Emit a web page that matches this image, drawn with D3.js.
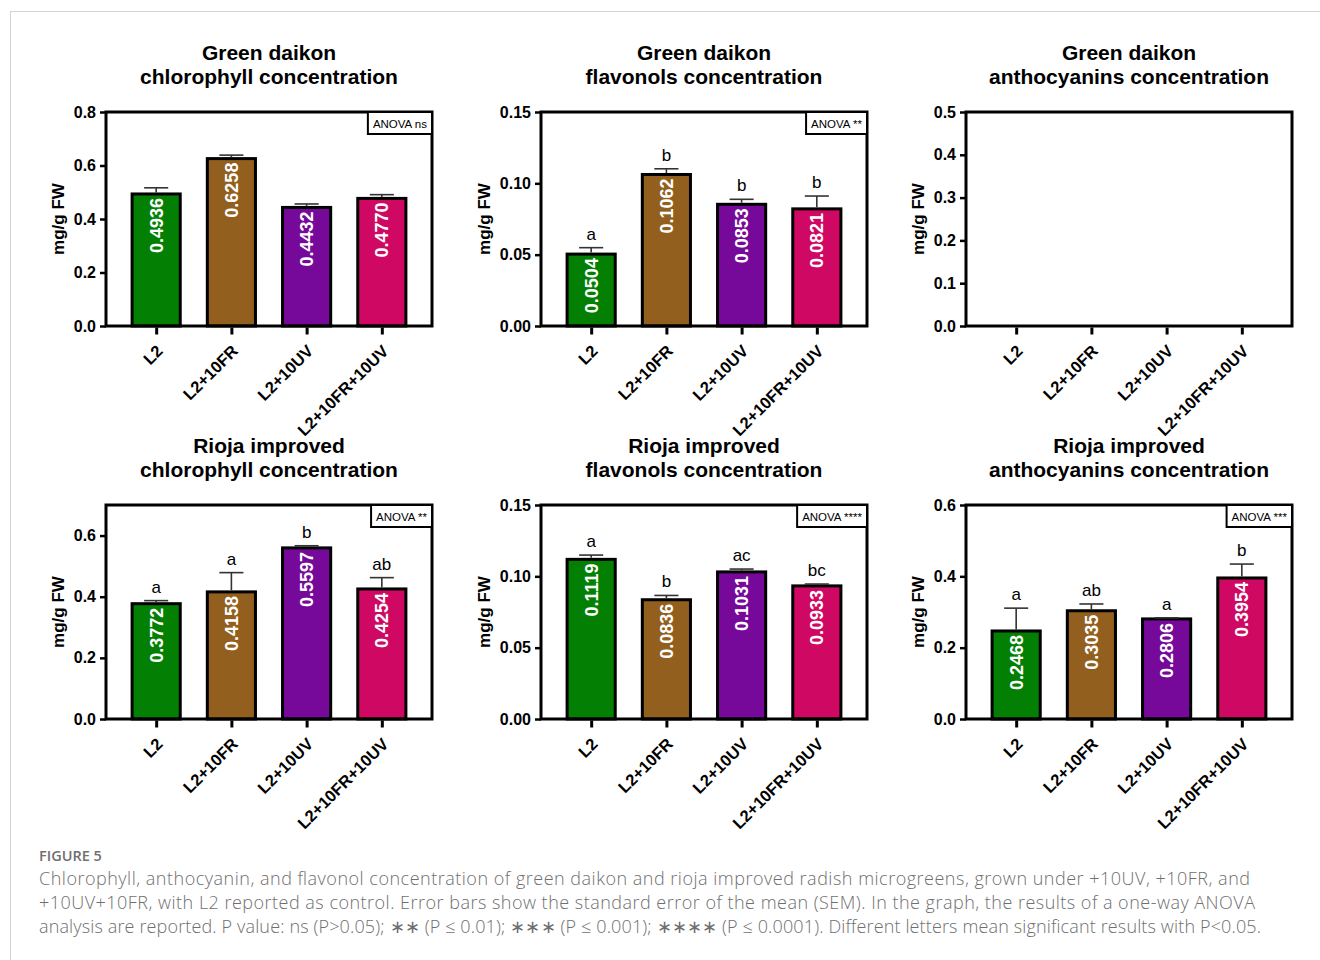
<!DOCTYPE html>
<html>
<head>
<meta charset="utf-8">
<script src="https://cdn.jsdelivr.net/npm/d3@7"></script>
<style>
  body { margin: 0; background: #fff; }
  svg { display: block; }
</style>
</head>
<body>
<script>
// treatments and bar colours
var groups = ["L2", "L2+10FR", "L2+10UV", "L2+10FR+10UV"];
var barColors = ["#037f03", "#925f1e", "#760999", "#cf0863"];

var cultivars = ["Green daikon", "Rioja improved"];
var pigments = ["chlorophyll", "flavonols", "anthocyanins"];

// means and SEM
var gdChlorophyll = [0.4936, 0.6258, 0.4432, 0.4770];
var gdChlorophyllSem = [0.023, 0.013, 0.013, 0.014];
var gdFlavonols = [0.0504, 0.1062, 0.0853, 0.0821];
var gdFlavonolsSem = [0.0045, 0.004, 0.0035, 0.009];
var gdFlavonolsLetters = ["a", "b", "b", "b"];
var gdAnthocyanins = [];

var riChlorophyll = [0.3772, 0.4158, 0.5597, 0.4254];
var riChlorophyllSem = [0.010, 0.063, 0.007, 0.037];
var riChlorophyllLetters = ["a", "a", "b", "ab"];
var riFlavonols = [0.1119, 0.0836, 0.1031, 0.0933];
var riFlavonolsSem = [0.003, 0.003, 0.002, 0.0013];
var riFlavonolsLetters = ["a", "b", "ac", "bc"];
var riAnthocyanins = [0.2468, 0.3035, 0.2806, 0.3954];
var riAnthocyaninsSem = [0.064, 0.019, 0.003, 0.039];
var riAnthocyaninsLetters = ["a", "ab", "a", "b"];

var yMax = [[0.8, 0.15, 0.5], [0.7, 0.15, 0.6]];
var yStep = [[0.2, 0.05, 0.1], [0.2, 0.05, 0.2]];
var yFormat = [[".1f", ".2f", ".1f"], [".1f", ".2f", ".1f"]];
var anova = [["ANOVA ns", "ANOVA **", null], ["ANOVA **", "ANOVA ****", "ANOVA ***"]];

var panels = [
  [ {v: gdChlorophyll, e: gdChlorophyllSem, l: null},
    {v: gdFlavonols, e: gdFlavonolsSem, l: gdFlavonolsLetters},
    {v: gdAnthocyanins, e: [], l: null} ],
  [ {v: riChlorophyll, e: riChlorophyllSem, l: riChlorophyllLetters},
    {v: riFlavonols, e: riFlavonolsSem, l: riFlavonolsLetters},
    {v: riAnthocyanins, e: riAnthocyaninsSem, l: riAnthocyaninsLetters} ]
];

var captionTitle = "FIGURE 5";
var captionLines = [
  "Chlorophyll, anthocyanin, and flavonol concentration of green daikon and rioja improved radish microgreens, grown under +10UV, +10FR, and",
  "+10UV+10FR, with L2 reported as control. Error bars show the standard error of the mean (SEM). In the graph, the results of a one-way ANOVA",
  "analysis are reported. P value: ns (P>0.05); \u2217\u2217 (P \u2264 0.01); \u2217\u2217\u2217 (P \u2264 0.001); \u2217\u2217\u2217\u2217 (P \u2264 0.0001). Different letters mean significant results with P<0.05."
];
var captionWidths = [1211, 1216, 1222];

var W = 1320, H = 960;
var font = "'Liberation Sans', Arial, sans-serif";
var svg = d3.select("body").append("svg")
    .attr("width", W)
    .attr("height", H);

svg.append("rect").attr("width", W).attr("height", H).attr("fill", "#fff");
// light page frame
svg.append("rect")
    .attr("x", 10.5).attr("y", 11.5)
    .attr("width", W).attr("height", H)
    .attr("fill", "none").attr("stroke", "#d4d4d4").attr("stroke-width", 1);

var lefts = [106, 541, 966],
    tops = [112, 505],
    pw = 326, ph = 214;

var x = d3.scalePoint().domain(groups).range([0, pw]).padding(0.667);
var barW = x.step() * 0.64;

for (var r = 0; r < 2; r++) {
  for (var c = 0; c < 3; c++) {
    drawPanel(r, c);
  }
}

function drawPanel(r, c) {
  var p = panels[r][c];
  var g = svg.append("g")
      .attr("transform", "translate(" + lefts[c] + "," + tops[r] + ")")
      .style("font-family", font);

  var y = d3.scaleLinear().domain([0, yMax[r][c]]).range([ph, 0]);
  var ticks = d3.range(0, yMax[r][c] + 1e-9, yStep[r][c]);

  // titles
  var t = g.append("text")
      .attr("x", pw / 2).attr("y", -52)
      .attr("text-anchor", "middle")
      .attr("font-size", 21).attr("font-weight", "bold");
  t.append("tspan").attr("x", pw / 2).text(cultivars[r]);
  t.append("tspan").attr("x", pw / 2).attr("dy", 24).text(pigments[c] + " concentration");

  // bars
  g.selectAll("rect.bar")
    .data(p.v)
    .enter().append("rect")
      .attr("class", "bar")
      .attr("x", function(d, i) { return x(groups[i]) - barW / 2; })
      .attr("y", function(d) { return y(d); })
      .attr("width", barW)
      .attr("height", function(d) { return ph - y(d); })
      .attr("fill", function(d, i) { return barColors[i]; })
      .attr("stroke", "#000").attr("stroke-width", 3);

  // error bars (upper only)
  var eg = g.selectAll("g.err")
    .data(p.v)
    .enter().append("g").attr("class", "err");
  eg.append("line")
      .attr("x1", function(d, i) { return x(groups[i]); })
      .attr("x2", function(d, i) { return x(groups[i]); })
      .attr("y1", function(d) { return y(d) - 1.5; })
      .attr("y2", function(d, i) { return y(d + p.e[i]); })
      .attr("stroke", "#333").attr("stroke-width", 1.6);
  eg.append("line")
      .attr("x1", function(d, i) { return x(groups[i]) - barW / 4; })
      .attr("x2", function(d, i) { return x(groups[i]) + barW / 4; })
      .attr("y1", function(d, i) { return y(d + p.e[i]); })
      .attr("y2", function(d, i) { return y(d + p.e[i]); })
      .attr("stroke", "#333").attr("stroke-width", 1.6);

  // value labels inside bars
  g.selectAll("text.val")
    .data(p.v)
    .enter().append("text")
      .attr("class", "val")
      .attr("transform", function(d, i) {
        return "translate(" + x(groups[i]) + "," + (y(d) + 4) + ") rotate(-90)";
      })
      .attr("text-anchor", "end")
      .attr("dy", "0.36em")
      .attr("fill", "#fff")
      .attr("font-size", 18).attr("font-weight", "bold")
      .text(function(d) { return d3.format(".4f")(d); });

  // significance letters
  if (p.l) {
    g.selectAll("text.let")
      .data(p.v)
      .enter().append("text")
        .attr("class", "let")
        .attr("x", function(d, i) { return x(groups[i]); })
        .attr("y", function(d, i) { return y(d + p.e[i]) - 8; })
        .attr("text-anchor", "middle")
        .attr("font-size", 17)
        .text(function(d, i) { return p.l[i]; });
  }

  // frame
  g.append("rect")
      .attr("width", pw).attr("height", ph)
      .attr("fill", "none").attr("stroke", "#000").attr("stroke-width", 3);

  // y axis
  var ya = g.append("g")
      .call(d3.axisLeft(y).tickValues(ticks).tickFormat(d3.format(yFormat[r][c])).tickSize(6).tickPadding(4));
  ya.select(".domain").remove();
  ya.selectAll(".tick line").attr("stroke", "#000").attr("stroke-width", 2.5);
  ya.selectAll(".tick text")
      .attr("font-family", font).attr("font-size", 16).attr("font-weight", "bold").attr("fill", "#000");

  var bb = ya.node().getBBox();
  g.append("text")
      .attr("transform", "translate(" + (bb.x - 16) + "," + (ph / 2) + ") rotate(-90)")
      .attr("text-anchor", "middle")
      .attr("dy", "0.36em")
      .attr("font-size", 17).attr("font-weight", "bold")
      .text("mg/g FW");

  // x axis
  var xa = g.append("g")
      .attr("transform", "translate(0," + ph + ")")
      .call(d3.axisBottom(x).tickSize(7).tickPadding(2));
  xa.select(".domain").remove();
  xa.selectAll(".tick line").attr("stroke", "#000").attr("stroke-width", 3).attr("y1", 1.5).attr("y2", 8.5);
  xa.selectAll(".tick text")
      .attr("font-family", font).attr("font-size", 16.5).attr("font-weight", "bold").attr("fill", "#000")
      .attr("text-anchor", "end")
      .attr("transform", "translate(3,22) rotate(-45)")
      .attr("y", 0).attr("dy", "0.35em");

  // ANOVA box
  if (anova[r][c]) {
    var ag = g.append("g");
    var at = ag.append("text")
        .attr("y", 15.5)
        .attr("font-size", 11.5)
        .attr("text-anchor", "end")
        .text(anova[r][c]);
    var tw = at.node().getComputedTextLength();
    var bw = tw + 10;
    ag.insert("rect", "text")
        .attr("x", pw - bw).attr("y", 0)
        .attr("width", bw).attr("height", 22)
        .attr("fill", "#fff").attr("stroke", "#000").attr("stroke-width", 2);
    at.attr("x", pw - 5);
  }
}

// caption
var cap = svg.append("g").style("font-family", "'Open Sans', sans-serif").attr("fill", "#6f6f6f");
cap.append("text")
    .attr("x", 39).attr("y", 861)
    .attr("font-size", 14.5).attr("font-weight", 600)
    .text(captionTitle);
cap.selectAll("text.line")
  .data(captionLines)
  .enter().append("text")
    .attr("class", "line")
    .attr("x", 39)
    .attr("y", function(d, i) { return 885 + i * 24; })
    .attr("font-size", 18).attr("font-weight", 300)
    .attr("textLength", function(d, i) { return captionWidths[i]; })
    .attr("lengthAdjust", "spacing")
    .text(function(d) { return d; });
</script>
</body>
</html>
